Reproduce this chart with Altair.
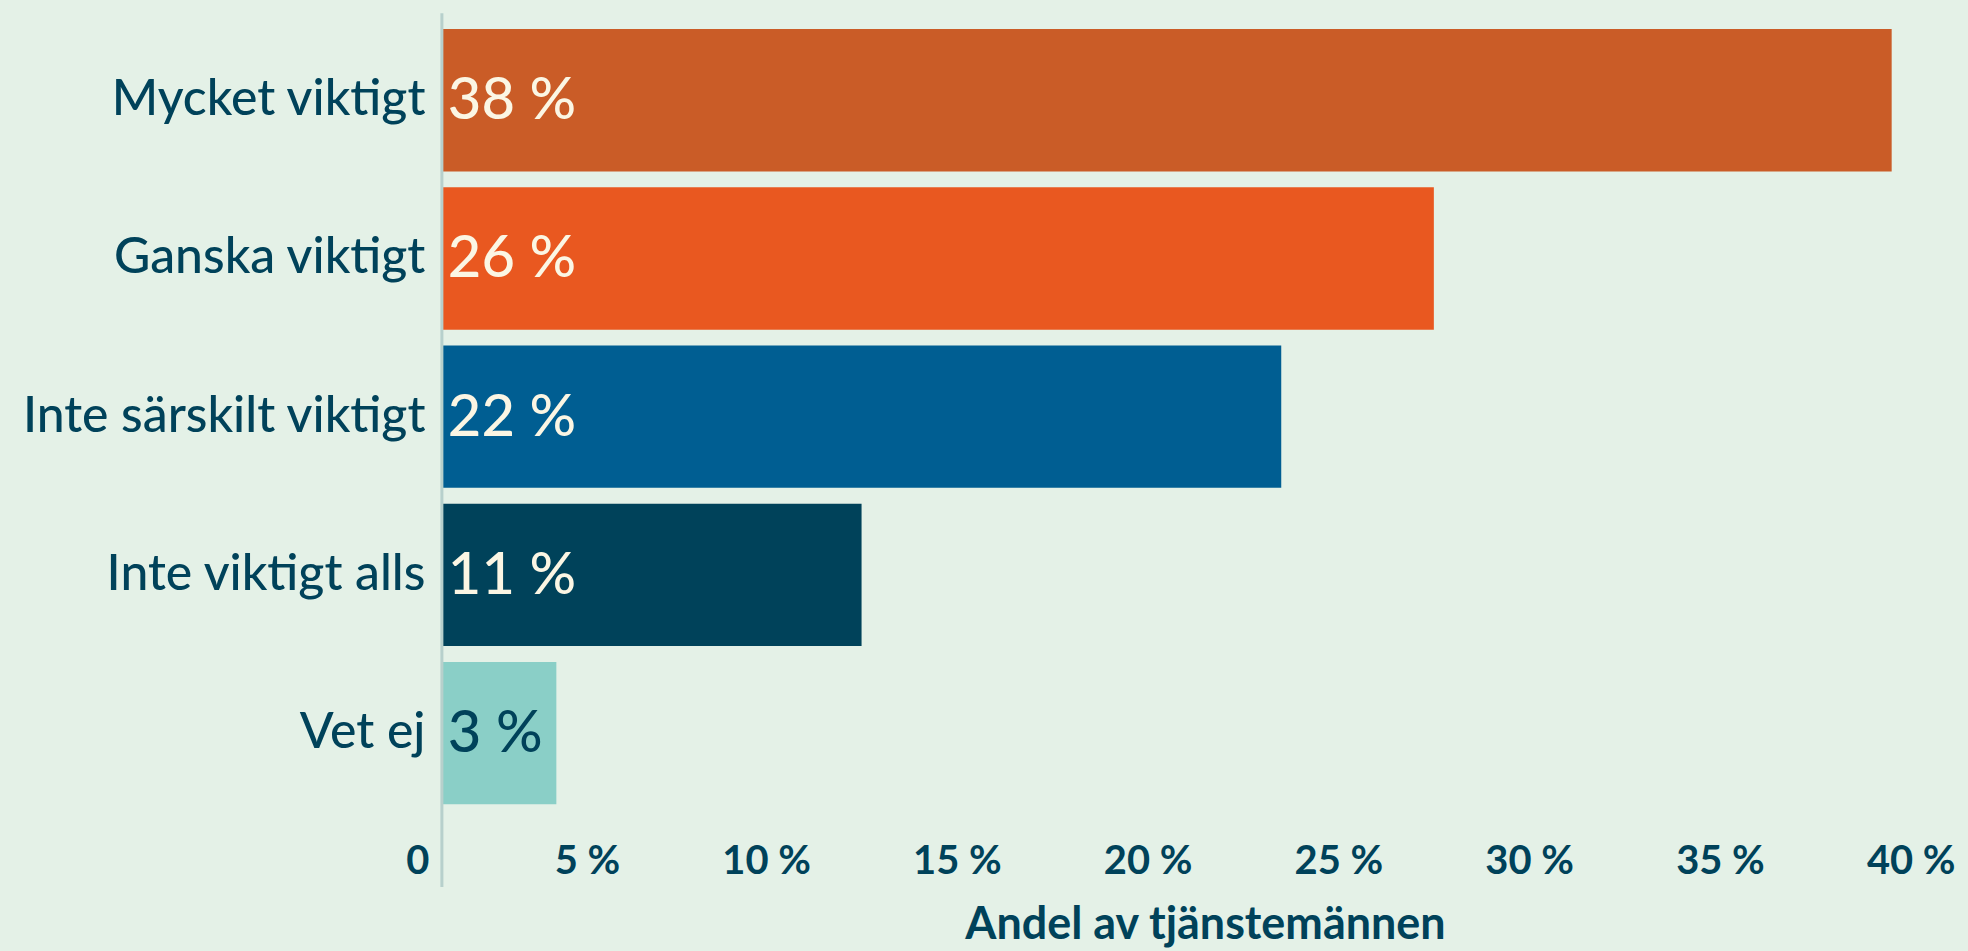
import altair as alt
import pandas as pd
import jinja2

categories = ["Mycket viktigt", "Ganska viktigt", "Inte särskilt viktigt", "Inte viktigt alls", "Vet ej"]
values = [38, 26, 22, 11, 3]
bar_colors = ["#CA5C27", "#E95820", "#005E92", "#00425A", "#8ACFC7"]
label_colors = ["#FBF6E4", "#FBF6E4", "#FBF6E4", "#FBF6E4", "#00425A"]
x_ticks = [0, 5, 10, 15, 20, 25, 30, 35, 40]

df = pd.DataFrame({
    "kategori": categories,
    "andel": values,
    "farg": bar_colors,
    "textfarg": label_colors,
    "etikett": [f"{v} %" for v in values],
})

BG = "#E4F1E7"
TEXT = "#00425A"
FONT = "Lato"

y_enc = alt.Y("kategori:N", sort=categories,
              scale=alt.Scale(paddingInner=0.1, paddingOuter=0.1),
              axis=alt.Axis(title=None, ticks=False, tickSize=0, domain=False,
                            labelFontSize=50, labelFont=FONT, labelFontWeight=500,
                            labelColor=TEXT, labelPadding=17, labelLimit=600))

x_enc = alt.X("andel:Q",
              scale=alt.Scale(domain=[0, 40], nice=False, range=[0, 1530]),
              axis=alt.Axis(title="Andel av tjänstemännen", values=x_ticks,
                            labelExpr="datum.value == 0 ? '0' : datum.value + ' %'",
                            grid=False, ticks=False, tickSize=0, domain=False,
                            labelAlign="right", labelOffset=-13, labelBaseline="middle",
                            labelPadding=42, labelFlush=False, labelOverlap=False,
                            labelFontSize=40, labelFontWeight="bold", labelFont=FONT,
                            labelColor=TEXT,
                            titleFontSize=45, titleFontWeight="bold", titleFont=FONT,
                            titleColor=TEXT, titlePadding=21))

bars = alt.Chart(df).mark_bar().encode(
    x=x_enc,
    y=y_enc,
    color=alt.Color("farg:N", scale=None),
)

texts = alt.Chart(df).mark_text(align="left", baseline="middle", dx=6, dy=2,
                                fontSize=58, font=FONT, fontWeight=500).encode(
    x=alt.datum(0),
    y=alt.Y("kategori:N", sort=categories),
    text="etikett:N",
    color=alt.Color("textfarg:N", scale=None),
)

axis_line = alt.Chart(alt.Data(values=[{}])).mark_rule(
    color="#B7D0CC", strokeWidth=3
).encode(x=alt.value(0), y=alt.value(0), y2=alt.value(876))

chart = alt.layer(bars, texts, axis_line).properties(
    width=1522, height=809,
    background=BG,
    padding={"left": 435, "top": 4, "right": 0, "bottom": 130},
    autosize=alt.AutoSizeParams(type="none"),
).configure_view(stroke=None)

PAGE = jinja2.Template("""<!DOCTYPE html>
<html>
<head>
<style>
html { overflow: hidden; background: """ + BG + """; }
body { background: """ + BG + """; margin: 8px 8px 0 8px; }
#{{ output_div }}.vega-embed { width: 100%; display: flex; }
</style>
<script type="text/javascript" src="{{ base_url }}/vega@{{ vega_version }}"></script>
<script type="text/javascript" src="{{ base_url }}/vega-lite@{{ vegalite_version }}"></script>
<script type="text/javascript" src="{{ base_url }}/vega-embed@{{ vegaembed_version }}"></script>
</head>
<body>
<div id="{{ output_div }}"></div>
<script>
(function(vegaEmbed) {
  var spec = {{ spec }};
  var embedOpt = {{ embed_options }};
  vegaEmbed("#{{ output_div }}", spec, embedOpt).catch(function (e) {
    document.getElementById("{{ output_div }}").innerHTML = "<pre>" + e.message + "</pre>";
  });
})(vegaEmbed);
</script>
</body>
</html>
""")

chart.save("out.html", embed_options={"renderer": "svg", "actions": False}, template=PAGE)
